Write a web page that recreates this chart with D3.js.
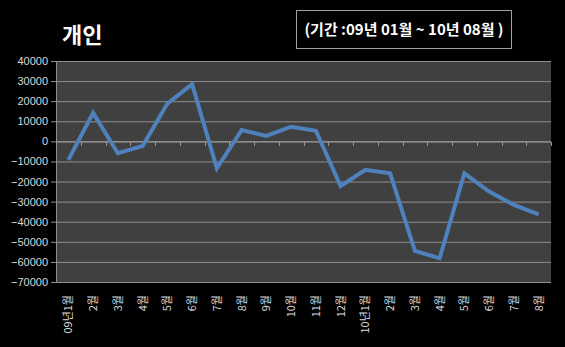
<!DOCTYPE html>
<html>
<head>
<meta charset="utf-8">
<script src="https://cdn.jsdelivr.net/npm/d3@7"></script>
<style>
  html, body { margin: 0; padding: 0; background: #000; }
  svg { display: block; }
</style>
</head>
<body>
<svg id="chart" width="565" height="347"></svg>
<script>
// Monthly net amount for individuals, Jan 2009 - Aug 2010
const months = ["09년1월", "2월", "3월", "4월", "5월", "6월", "7월", "8월", "9월", "10월", "11월", "12월",
                "10년1월", "2월", "3월", "4월", "5월", "6월", "7월", "8월"];
const values = [-9200, 14200, -5900, -2300, 18800, 28500, -13400, 5600, 2700, 7300, 5300, -22200,
                -14200, -15900, -54500, -58200, -15900, -25000, -31600, -36300];
const yTicks = [40000, 30000, 20000, 10000, 0, -10000, -20000, -30000, -40000, -50000, -60000, -70000];

const svg = d3.select("#chart");
const plot = { left: 56, right: 551, top: 61, bottom: 282 };

const x = d3.scaleBand().domain(d3.range(months.length)).range([plot.left, plot.right]);
const y = d3.scaleLinear().domain([-70000, 40000]).range([plot.bottom, plot.top]);

// plot background
svg.append("rect")
  .attr("x", plot.left).attr("y", plot.top)
  .attr("width", plot.right - plot.left).attr("height", plot.bottom - plot.top)
  .attr("fill", "#404040");

// horizontal gridlines
svg.append("g").selectAll("line").data(yTicks).join("line")
  .attr("x1", plot.left).attr("x2", plot.right)
  .attr("y1", d => y(d) + 0.5).attr("y2", d => y(d) + 0.5)
  .attr("stroke", "#8e8e8e").attr("stroke-width", 1);

// value axis
const yAxis = svg.append("g")
  .attr("transform", `translate(${plot.left},0)`)
  .call(d3.axisLeft(y).tickValues(yTicks).tickSize(5).tickPadding(3).tickFormat(d3.format("d")));
yAxis.select(".domain").attr("stroke", "#8e8e8e");
yAxis.selectAll(".tick line").attr("stroke", "#8e8e8e");
yAxis.selectAll("text")
  .attr("fill", "#d9d9d9")
  .style("font-family", "'Liberation Sans', Arial, sans-serif")
  .style("font-size", "11px");

// category axis crossing at zero, ticks between categories
const zeroY = y(0) + 0.5;
svg.append("line")
  .attr("x1", plot.left).attr("x2", plot.right)
  .attr("y1", zeroY).attr("y2", zeroY)
  .attr("stroke", "#9a9a9a");
svg.append("g").selectAll("line").data(d3.range(months.length + 1)).join("line")
  .attr("x1", i => Math.round(plot.left + i * x.step()) + 0.5)
  .attr("x2", i => Math.round(plot.left + i * x.step()) + 0.5)
  .attr("y1", zeroY).attr("y2", zeroY + 4)
  .attr("stroke", "#9a9a9a");

// category labels, rotated
svg.append("g").selectAll("text").data(months).join("text")
  .attr("transform", (d, i) => `translate(${x(i) + x.bandwidth() / 2 + 4},${plot.bottom + 13}) rotate(-90)`)
  .attr("text-anchor", "end")
  .attr("fill", "#d9d9d9")
  .style("font-family", "'Noto Sans CJK KR', sans-serif")
  .style("font-size", "11px")
  .text(d => d);

// series line
const line = d3.line()
  .x((d, i) => x(i) + x.bandwidth() / 2)
  .y(d => y(d));
svg.append("path")
  .datum(values)
  .attr("d", line)
  .attr("fill", "none")
  .attr("stroke", "#4f81bd")
  .attr("stroke-width", 4)
  .attr("stroke-linejoin", "miter");

// title
svg.append("text")
  .attr("x", 62).attr("y", 43)
  .attr("fill", "#fff")
  .style("font-family", "'Noto Sans CJK KR', sans-serif")
  .style("font-weight", "bold")
  .style("font-size", "22px")
  .text("개인");

// period box
svg.append("rect")
  .attr("x", 296.5).attr("y", 10.5).attr("width", 215).attr("height", 38)
  .attr("fill", "#000").attr("stroke", "#a0a0a0").attr("stroke-width", 1);
svg.append("text")
  .attr("x", 404).attr("y", 35)
  .attr("text-anchor", "middle")
  .attr("fill", "#fff")
  .style("font-family", "'Noto Sans CJK KR', sans-serif")
  .style("font-weight", "bold")
  .style("font-size", "15px")
  .text("(기간 :09년 01월 ~ 10년 08월 )");
</script>
</body>
</html>
